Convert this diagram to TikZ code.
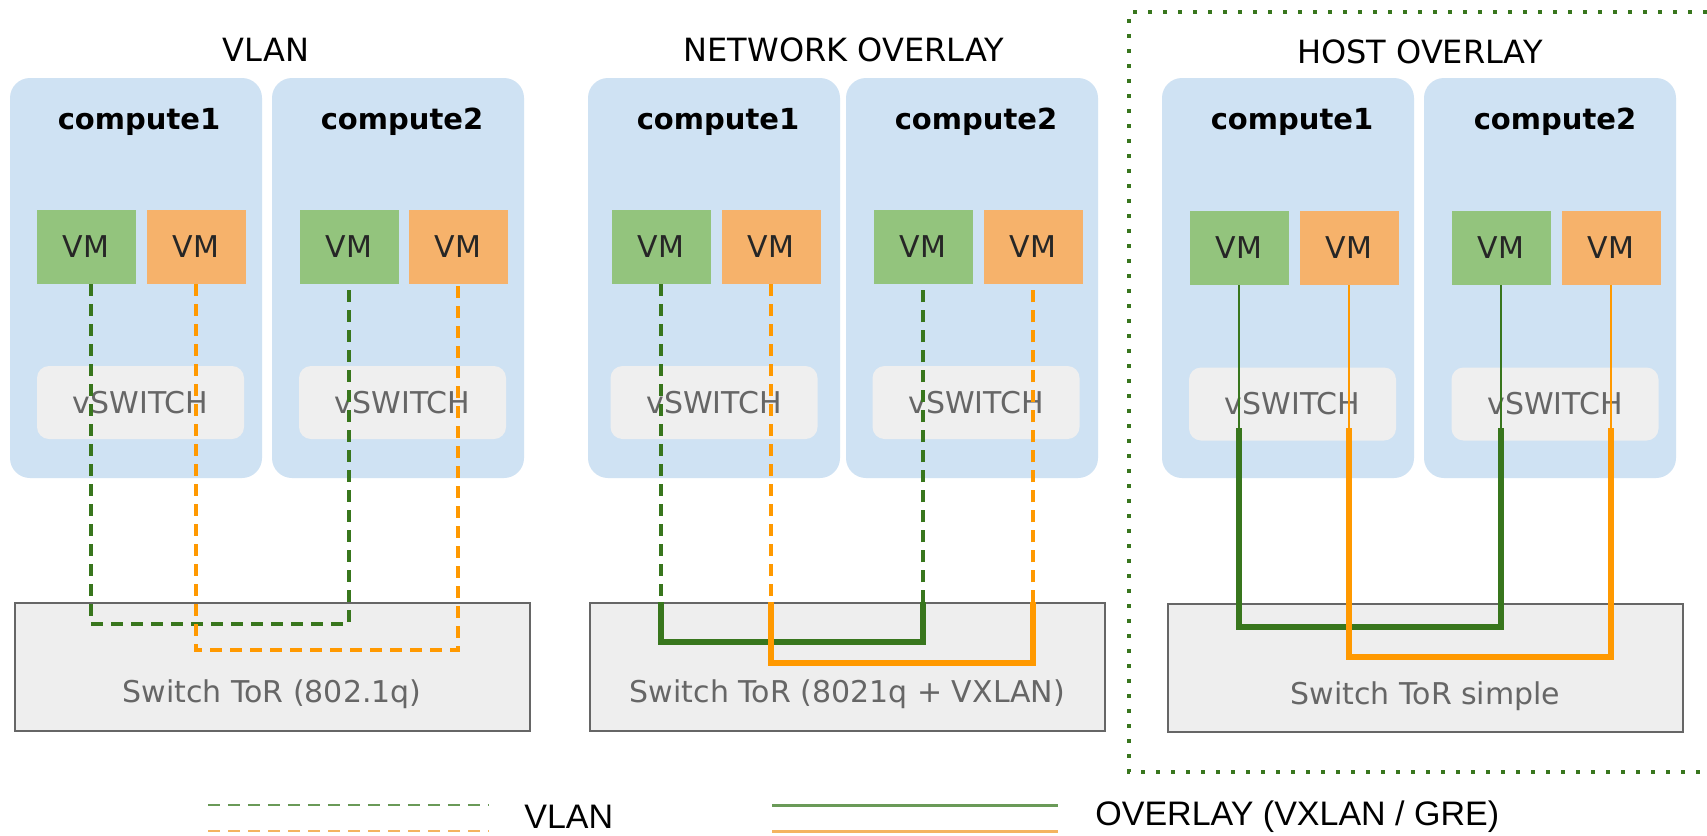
\documentclass[tikz,border=0pt]{standalone}
\usepackage{fontspec}
\setmainfont{DejaVu Sans}
\newfontfamily\legendfont{Liberation Sans}
\usepackage{tikz}
\usepackage{xcolor}
\definecolor{hostblue}{HTML}{CFE2F3}
\definecolor{vmgreen}{HTML}{93C47D}
\definecolor{vmorange}{HTML}{F6B26B}
\definecolor{vswgray}{HTML}{EFEFEF}
\definecolor{swgray}{HTML}{EEEEEE}
\definecolor{txtgray}{HTML}{666666}
\definecolor{wiregreen}{HTML}{38761D}
\definecolor{wireorange}{HTML}{FF9900}
\definecolor{leggreen}{HTML}{6A9A58}
\definecolor{legorange}{HTML}{F4B460}

\begin{document}
\begin{tikzpicture}[x=0.5pt,y=-0.5pt]
\tikzset{
    host/.style={%
        fill=hostblue,
        rectangle,
        rounded corners=10pt,
        minimum width=126pt,
        minimum height=200pt
        },
    vmg/.style={%
        fill=vmgreen,
        rectangle, inner sep=0pt,
        minimum width=49.5pt,
        minimum height=37pt,
        font=\fontsize{15}{18}\selectfont, text=black!85
        },
    vmo/.style={vmg, fill=vmorange},
    vsw/.style={%
        fill=vswgray,
        rectangle, inner sep=0pt,
        rounded corners=6pt,
        minimum width=103.5pt,
        minimum height=36.5pt,
        font=\fontsize{15}{18}\selectfont, text=txtgray
        },
    tor/.style={%
        fill=swgray, draw=txtgray, line width=1pt,
        rectangle,
        minimum width=257.5pt,
        minimum height=64pt
        },
    torlabel/.style={font=\fontsize{15}{18}\selectfont, text=txtgray},
    hostname/.style={font=\fontsize{14.5}{17}\selectfont\bfseries},
    paneltitle/.style={font=\fontsize{16}{19}\selectfont},
    vlangreen/.style={draw=wiregreen, line width=1.6pt, dash pattern=on 6pt off 4pt},
    vlanorange/.style={draw=wireorange, line width=1.6pt, dash pattern=on 6pt off 4pt},
    ovlgreen/.style={draw=wiregreen, line width=2.6pt},
    ovlorange/.style={draw=wireorange, line width=2.6pt},
    thingreen/.style={draw=wiregreen, line width=0.8pt},
    thinorange/.style={draw=wireorange, line width=0.8pt},
    hostframe/.style={draw=wiregreen, line width=2pt, dash pattern=on 2pt off 5.5pt},
}
\path[fill=white] (0,0) rectangle (1707,835);
\useasboundingbox (0,0) rectangle (1707,835);
%%%VLAN
\node[paneltitle] (t1) at (266,50) {VLAN};
\node[host] (p1c1) at (136,278) {};
\node[host] (p1c2) at (398,278) {};
\node[hostname] (p1n1) at (139,122) {compute1};
\node[hostname] (p1n2) at (402,122) {compute2};
\node[vmg] (p1g1) at (86,247) {VM};
\node[vmo] (p1o1) at (196,247) {VM};
\node[vmg] (p1g2) at (349,247) {VM};
\node[vmo] (p1o2) at (458,247) {VM};
\node[vsw] (p1v1) at (140.5,402.5) {vSWITCH};
\node[vsw] (p1v2) at (402.5,402.5) {vSWITCH};
\node[tor] (p1sw) at (272,667) {};
\node[torlabel] (p1swl) at (272,694) {Switch ToR (802.1q)};
%%%NETWORK OVERLAY
\node[paneltitle] (t2) at (844,50) {NETWORK OVERLAY};
\node[host] (p2c1) at (714,278) {};
\node[host] (p2c2) at (972,278) {};
\node[hostname] (p2n1) at (718,122) {compute1};
\node[hostname] (p2n2) at (976,122) {compute2};
\node[vmg] (p2g1) at (661,247) {VM};
\node[vmo] (p2o1) at (771,247) {VM};
\node[vmg] (p2g2) at (923,247) {VM};
\node[vmo] (p2o2) at (1033,247) {VM};
\node[vsw] (p2v1) at (714,402.5) {vSWITCH};
\node[vsw] (p2v2) at (976,402.5) {vSWITCH};
\node[tor] (p2sw) at (847.5,667) {};
\node[torlabel] (p2swl) at (847.5,694) {Switch ToR (8021q + VXLAN)};
%%%HOST OVERLAY
\draw[hostframe] (1707,12) -- (1129,12) -- (1129,772) -- (1707,772);
\node[paneltitle] (t3) at (1420,52) {HOST OVERLAY};
\node[host] (p3c1) at (1288,278) {};
\node[host] (p3c2) at (1550,278) {};
\node[hostname] (p3n1) at (1292,122) {compute1};
\node[hostname] (p3n2) at (1555,122) {compute2};
\node[vmg] (p3g1) at (1239,248) {VM};
\node[vmo] (p3o1) at (1349,248) {VM};
\node[vmg] (p3g2) at (1501,248) {VM};
\node[vmo] (p3o2) at (1611,248) {VM};
\node[vsw] (p3v1) at (1292.5,404) {vSWITCH};
\node[vsw] (p3v2) at (1555,404) {vSWITCH};
\node[tor] (p3sw) at (1425.5,668) {};
\node[torlabel] (p3swl) at (1425.5,696) {Switch ToR simple};
%%%WIRES
\coordinate (p1wg) at (0,624);
\coordinate (p1wo) at (0,650);
\draw[vlangreen] ([xshift=2.5pt]p1g1.south) |- (p1wg -| p1g2.south) -- (p1g2.south);
\draw[vlanorange] (p1o1.south) |- (p1wo -| p1o2.south) -- (p1o2.south);
%
\coordinate (p2wg) at (0,642);
\coordinate (p2wo) at (0,663);
\draw[vlangreen] (p2g1.south) -- (p2g1.south |- p2sw.north);
\draw[ovlgreen] (p2g1.south |- p2sw.north) |- (p2wg -| p2g2.south) -- (p2g2.south |- p2sw.north);
\draw[vlangreen] (p2g2.south |- p2sw.north) -- (p2g2.south);
\draw[vlanorange] (p2o1.south) -- (p2o1.south |- p2sw.north);
\draw[ovlorange] (p2o1.south |- p2sw.north) |- (p2wo -| p2o2.south) -- (p2o2.south |- p2sw.north);
\draw[vlanorange] (p2o2.south |- p2sw.north) -- (p2o2.south);
%
\coordinate (p3tk) at (0,428);
\coordinate (p3wg) at (0,627);
\coordinate (p3wo) at (0,657);
\draw[thingreen] (p3g1.south) -- (p3g1.south |- p3tk);
\draw[ovlgreen] (p3g1.south |- p3tk) |- (p3wg -| p3g2.south) -- (p3g2.south |- p3tk);
\draw[thingreen] (p3g2.south |- p3tk) -- (p3g2.south);
\draw[thinorange] (p3o1.south) -- (p3o1.south |- p3tk);
\draw[ovlorange] (p3o1.south |- p3tk) |- (p3wo -| p3o2.south) -- (p3o2.south |- p3tk);
\draw[thinorange] (p3o2.south |- p3tk) -- (p3o2.south);
%%%LEGEND
\coordinate (lg1) at (208,805);
\coordinate (lg2) at (489,805);
\coordinate (lo1) at (208,831);
\coordinate (lo2) at (489,831);
\draw[leggreen, line width=1.3pt, dash pattern=on 6pt off 4pt] (lg1) -- (lg2);
\draw[legorange, line width=1.3pt, dash pattern=on 6pt off 4pt] (lo1) -- (lo2);
\node[anchor=west, inner sep=0pt, font=\legendfont\fontsize{17}{20}\selectfont] (legvlan) at (524,817) {VLAN};
\coordinate (sg1) at (772,805);
\coordinate (sg2) at (1058,805);
\coordinate (so1) at (772,831);
\coordinate (so2) at (1058,831);
\draw[leggreen, line width=1.5pt] (sg1) -- (sg2);
\draw[legorange, line width=1.5pt] (so1) -- (so2);
\node[anchor=west, inner sep=0pt, font=\legendfont\fontsize{17}{20}\selectfont] (legovl) at (1095,817) {OVERLAY (VXLAN / GRE)};
\end{tikzpicture}
\end{document}
